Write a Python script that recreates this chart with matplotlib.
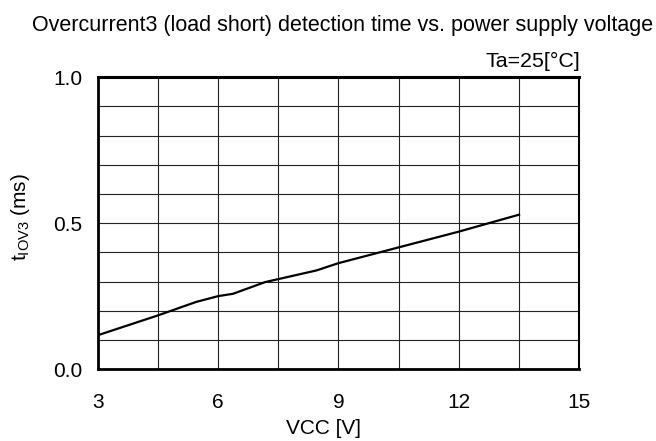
import matplotlib.pyplot as plt
import numpy as np

plt.rcParams["font.family"] = ["Liberation Sans", "DejaVu Sans"]

# detection time curve at Ta=25 C
vcc = [3.0, 4.5, 5.45, 6.0, 6.37, 7.17, 8.45, 9.0, 10.5, 12.0, 13.5]
t_iov3 = [0.116, 0.184, 0.230, 0.250, 0.258, 0.298, 0.338, 0.363, 0.417, 0.471, 0.529]

x_ticks = [3, 6, 9, 12, 15]
y_ticks = [0.0, 0.5, 1.0]
y_labels = ["0.0", "0.5", "1.0"]

fig = plt.figure(figsize=(6.56, 4.41), dpi=100)
ax = fig.add_axes([0.149, 0.163, 0.734, 0.662])

ax.plot(vcc, t_iov3, color="black", lw=1.6, zorder=3)

ax.set_xlim(3, 15)
ax.set_ylim(0, 1.0)
ax.set_xticks(x_ticks)
ax.set_yticks(y_ticks)
ax.set_yticklabels(y_labels)
ax.set_xticks(np.arange(3, 15.01, 1.5), minor=True)
ax.set_yticks(np.arange(0, 1.001, 0.1), minor=True)
ax.grid(True, which="both", color="#222222", lw=0.8)
ax.tick_params(which="both", length=0, labelsize=15)
ax.tick_params(axis="x", pad=17)
ax.tick_params(axis="y", pad=11)

for side in ["left", "bottom"]:
    ax.spines[side].set_linewidth(2.0)
ax.spines["top"].set_linewidth(2.2)
ax.spines["right"].set_linewidth(1.5)

ax.set_xlabel("VCC [V]", fontsize=15)
ax.xaxis.set_label_coords(0.468, -0.171)
ax.set_ylabel(r"$\mathregular{t_{IOV3}}$ (ms)", fontsize=15)
ax.yaxis.set_label_coords(-0.137, 0.52)

fig.text(0.522, 0.930, "Overcurrent3 (load short) detection time vs. power supply voltage",
         ha="center", va="baseline", fontsize=15.5)
fig.text(0.884, 0.849, "Ta=25[°C]", ha="right", va="baseline", fontsize=15.4)

fig.savefig("out.png", dpi=100)
